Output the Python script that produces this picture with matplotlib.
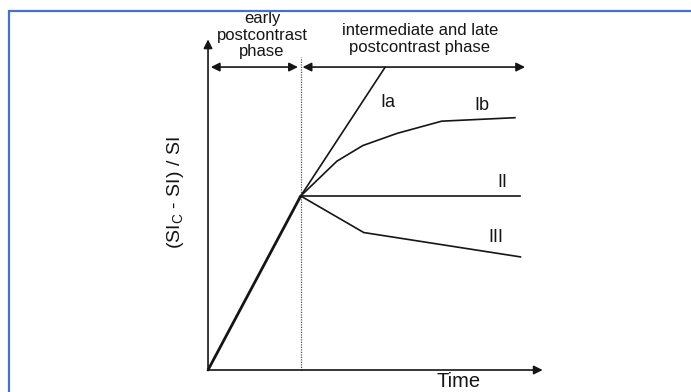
import matplotlib
matplotlib.use("Agg")
import matplotlib.pyplot as plt
from matplotlib.patches import Rectangle

plt.rcParams['font.family'] = ['Liberation Sans', 'DejaVu Sans']

# curve data (time in units of the early phase, signal relative to the junction)
early_t = [0.0, 1.0]
early_s = [0.0, 1.0]
ia_t = [1.0, 1.91]
ia_s = [1.0, 1.74]
ib_t = [1.0, 1.39, 1.67, 2.04, 2.52, 3.31]
ib_s = [1.0, 1.20, 1.29, 1.36, 1.43, 1.45]
ii_t = [1.0, 3.37]
ii_s = [1.0, 1.0]
iii_t = [1.0, 1.68, 3.37]
iii_s = [1.0, 0.79, 0.65]

curve_labels = ['Ia', 'Ib', 'II', 'III']
label_t = [1.94, 2.95, 3.17, 3.10]
label_s = [1.54, 1.52, 1.08, 0.76]

W, H = 691, 392
fig = plt.figure(figsize=(W / 100, H / 100), dpi=100)
ax = fig.add_axes([0, 0, 1, 1])
ax.set_xlim(-2.244, 5.210)
ax.set_ylim(-0.1264, 2.1264)
ax.axis('off')

# blue frame
fig.patches.append(Rectangle((9 / W, -0.1), 1.1, 1 - 11 / H + 0.1,
                             transform=fig.transFigure, fill=False,
                             edgecolor='#4472C4', linewidth=1.6))

ink = '#151515'
arr = dict(arrowstyle='-|>', color=ink, lw=1.2, mutation_scale=13,
           shrinkA=0, shrinkB=0)
dbl = dict(arrowstyle='<|-|>', color=ink, lw=1.2, mutation_scale=13,
           shrinkA=0, shrinkB=0)

# axes
ax.annotate('', xy=(3.61, 0), xytext=(0, 0), arrowprops=arr)
ax.annotate('', xy=(0, 1.90), xytext=(0, 0), arrowprops=arr)

# phase arrows
ax.annotate('', xy=(0.03, 1.741), xytext=(0.97, 1.741), arrowprops=dbl)
ax.annotate('', xy=(1.02, 1.741), xytext=(3.42, 1.741), arrowprops=dbl)

# boundary between phases
ax.plot([1.0, 1.0], [0.0, 1.80], color='#555555', lw=0.9, ls=(0, (1, 1)))

# curves
ax.plot(early_t, early_s, color=ink, lw=2.0, solid_capstyle='round')
ax.plot(ia_t, ia_s, color=ink, lw=1.2)
ax.plot(ib_t, ib_s, color=ink, lw=1.2)
ax.plot(ii_t, ii_s, color=ink, lw=1.2)
ax.plot(iii_t, iii_s, color=ink, lw=1.2)

for lab, t, s in zip(curve_labels, label_t, label_s):
    ax.text(t, s, lab, fontsize=13, ha='center', va='center', color=ink)

ax.text(0.583, 1.925, 'early\npostcontrast\nphase', fontsize=12,
        ha='center', va='center', linespacing=1.12, color=ink)
ax.text(2.285, 1.902, 'intermediate and late\npostcontrast phase', fontsize=12,
        ha='center', va='center', linespacing=1.1, color=ink)

ax.text(2.70, -0.122, 'Time', fontsize=14.5, ha='center', va='bottom', color=ink)
ax.text(-0.356, 1.02, r'(SI$_\mathregular{C}$ - SI) / SI', fontsize=14,
        rotation=90, ha='center', va='center', color=ink)

fig.savefig('out.png', dpi=100)
